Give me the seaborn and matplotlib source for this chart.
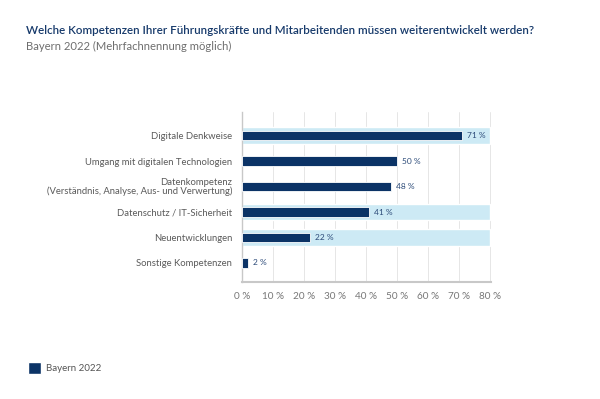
import pandas as pd
import matplotlib.pyplot as plt
import seaborn as sns
from matplotlib.patches import Patch

# data
categories = [
    "Digitale Denkweise",
    "Umgang mit digitalen Technologien",
    "Datenkompetenz\n(Verständnis, Analyse, Aus- und Verwertung)",
    "Datenschutz / IT-Sicherheit",
    "Neuentwicklungen",
    "Sonstige Kompetenzen",
]
values = [71, 50, 48, 41, 22, 2]
highlighted = [True, False, False, True, True, False]
x_ticks = [0, 10, 20, 30, 40, 50, 60, 70, 80]
series_name = "Bayern 2022"

NAVY = "#0b3366"
BAND = "#cdeaf5"
GREY = "#6e6e6e"

sns.set_style("white")
plt.rcParams["font.family"] = ["Lato", "DejaVu Sans"]

df = pd.DataFrame({"Kompetenz": categories, "Anteil": values})
band_df = pd.DataFrame({"Kompetenz": categories,
                        "Band": [x_ticks[-1] if h else 0 for h in highlighted]})

fig = plt.figure(figsize=(6, 3.99), dpi=100)
ax = fig.add_axes([0.403, 0.293, 0.415, 0.426])

# light blue highlight bands behind selected rows
sns.barplot(data=band_df, y="Kompetenz", x="Band", color=BAND, width=0.66,
            saturation=1, ax=ax, zorder=1)
sns.barplot(data=df, y="Kompetenz", x="Anteil", color=NAVY, width=0.36,
            saturation=1, ax=ax, edgecolor="white", linewidth=0.6, zorder=3)

for i, v in enumerate(values):
    ax.text(v + 1.6, i, f"{v} %", va="center", ha="left", fontsize=6,
            color="#2b4a78", zorder=4)

ax.set_xlim(0, 80.3)
ax.set_ylim(5.75, -0.92)
ax.set_xticks(x_ticks)
ax.set_xticklabels([f"{t} %" for t in x_ticks])
ax.set_xlabel("")
ax.set_ylabel("")
ax.grid(axis="x", color="#e6e6e6", linewidth=0.7, zorder=0)
ax.set_axisbelow(True)
for side in ["top", "right"]:
    ax.spines[side].set_visible(False)
ax.spines["left"].set_color("#c8c8c8")
ax.spines["bottom"].set_color("#c8c8c8")
ax.spines["left"].set_linewidth(1.0)
ax.spines["bottom"].set_linewidth(1.5)
ax.tick_params(axis="y", length=0, pad=7, labelsize=6.8, labelcolor="#5a5a5a")
ax.tick_params(axis="x", length=0, pad=7, labelsize=7.2, labelcolor="#777777")
for lab in ax.get_yticklabels():
    lab.set_multialignment("right")
    lab.set_linespacing(0.95)

fig.text(26 / 600, 1 - 31 / 399,
         "Welche Kompetenzen Ihrer Führungskräfte und Mitarbeitenden müssen weiterentwickelt werden?",
         fontsize=8.4, fontweight="semibold", color="#173a6b", va="center")
fig.text(26 / 600, 1 - 46 / 399, "Bayern 2022 (Mehrfachnennung möglich)",
         fontsize=8.1, color=GREY, va="center")

fig.legend(handles=[Patch(facecolor=NAVY, label=series_name)],
           loc="center left", bbox_to_anchor=(19 / 600, 1 - 368 / 399),
           frameon=False, fontsize=7, handlelength=1.4, handleheight=1.4,
           labelcolor="#555555", handletextpad=0.5)

fig.savefig("out.png", dpi=100)
